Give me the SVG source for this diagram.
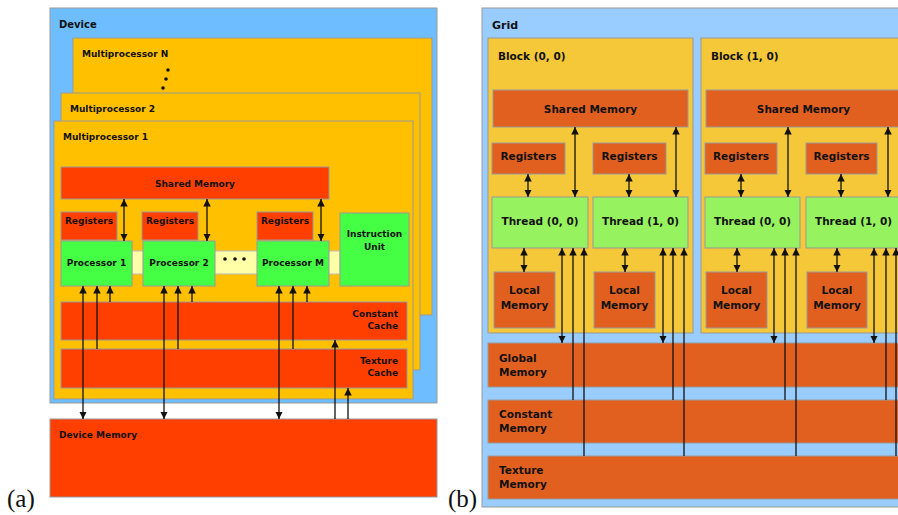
<svg xmlns="http://www.w3.org/2000/svg" width="898" height="515" viewBox="0 0 898 515">
<style>
text{font-family:"DejaVu Sans",Verdana,sans-serif;font-weight:bold;fill:#111}
.a{font-size:9px}
.b{font-size:10.5px}
.c{text-anchor:middle}
.r{text-anchor:end}
.lbl{font-family:"Liberation Serif","DejaVu Serif",serif;font-weight:normal;font-size:25px}
.st{stroke:#999;stroke-width:1}
.dev{fill:#6ebeff}
.mp{fill:#ffc000}
.red{fill:#ff3f00}
.grn{fill:#44ff44}
.grid{fill:#99ccff}
.blk{fill:#f4c838}
.org{fill:#e2601f}
.thr{fill:#96f25f}
.ln{stroke:#111;stroke-width:1.3;fill:none}
</style>
<defs>
<marker id="h" viewBox="0 0 8 8" markerWidth="7.5" markerHeight="7.5" refX="8" refY="4" orient="auto-start-reverse" markerUnits="userSpaceOnUse">
<path d="M0,0 L8,4 L0,8 z" fill="#111"/>
</marker>
</defs>
<rect width="898" height="515" fill="#fff"/>

<!-- (a) -->
<g id="device">
<rect x="50" y="8" width="387" height="395" class="dev st"/>
<text x="59" y="28" style="font-size:10px">Device</text>
</g>
<g id="mpN">
<rect x="73" y="38" width="359" height="277" class="mp st"/>
<text x="82" y="57" class="a">Multiprocessor N</text>
<circle cx="168" cy="70" r="1.8" fill="#111"/>
<circle cx="166" cy="79" r="1.8" fill="#111"/>
<circle cx="163" cy="88" r="1.8" fill="#111"/>
</g>
<g id="mp2">
<rect x="61" y="93" width="359" height="277" class="mp st"/>
<text x="70" y="112" class="a">Multiprocessor 2</text>
</g>
<g id="mp1">
<rect x="54" y="121" width="359" height="278" class="mp st"/>
<text x="63" y="140" class="a">Multiprocessor 1</text>
</g>
<g id="sharedA">
<rect x="61" y="167" width="268" height="32" class="red st"/>
<text x="195" y="187" class="a c">Shared Memory</text>
</g>
<g id="bar">
<rect x="132" y="251" width="208" height="23" fill="#ffffa8" stroke="#bbb"/>
<circle cx="225" cy="259" r="1.8" fill="#111"/>
<circle cx="235" cy="259" r="1.8" fill="#111"/>
<circle cx="244" cy="259" r="1.8" fill="#111"/>
</g>
<g id="reg1"><rect x="61" y="212" width="56" height="28" class="red st"/><text x="89" y="224" class="a c">Registers</text></g>
<g id="reg2"><rect x="142" y="212" width="56" height="28" class="red st"/><text x="170" y="224" class="a c">Registers</text></g>
<g id="regM"><rect x="257" y="212" width="56" height="28" class="red st"/><text x="285" y="224" class="a c">Registers</text></g>
<g id="proc1"><rect x="61" y="241" width="71" height="45" class="grn st"/><text x="96.5" y="266" class="a c">Processor 1</text></g>
<g id="proc2"><rect x="143" y="241" width="72" height="45" class="grn st"/><text x="179" y="266" class="a c">Processor 2</text></g>
<g id="procM"><rect x="257" y="241" width="72" height="45" class="grn st"/><text x="293" y="266" class="a c">Processor M</text></g>
<g id="iu"><rect x="340" y="213" width="69" height="73" class="grn st"/><text x="374.5" y="237" class="a c">Instruction</text><text x="374.5" y="250" class="a c">Unit</text></g>
<g id="constA"><rect x="61" y="302" width="346" height="38" class="red st"/><text x="398" y="317" class="a r">Constant</text><text x="398" y="329" class="a r">Cache</text></g>
<g id="texA"><rect x="61" y="349" width="346" height="39" class="red st"/><text x="398" y="364" class="a r">Texture</text><text x="398" y="376" class="a r">Cache</text></g>
<g id="devmem"><rect x="50" y="419" width="387" height="78" class="red st"/><text x="59" y="438" class="a">Device Memory</text></g>
<text x="7" y="507" class="lbl">(a)</text>

<!-- (b) -->
<g id="gridB">
<rect x="482" y="8" width="424" height="499" class="grid st"/>
<text x="492" y="29" style="font-size:11px">Grid</text>
</g>
<g id="block00">
<rect x="488" y="38" width="205" height="295" class="blk st"/>
<text x="498" y="60" class="b">Block (0, 0)</text>
</g>
<g id="block10">
<rect x="701" y="38" width="205" height="295" class="blk st"/>
<text x="711" y="60" class="b">Block (1, 0)</text>
</g>
<g id="sm0"><rect x="493" y="90" width="195" height="37" class="org st"/><text x="590.5" y="113" class="b c">Shared Memory</text></g>
<g id="sm1"><rect x="706" y="90" width="195" height="37" class="org st"/><text x="803.5" y="113" class="b c">Shared Memory</text></g>
<g id="r00"><rect x="492" y="143" width="73" height="31" class="org st"/><text x="528.5" y="160" class="b c">Registers</text></g>
<g id="r01"><rect x="593" y="143" width="73" height="31" class="org st"/><text x="629.5" y="160" class="b c">Registers</text></g>
<g id="r10"><rect x="705" y="143" width="72" height="31" class="org st"/><text x="741" y="160" class="b c">Registers</text></g>
<g id="r11"><rect x="806" y="143" width="71" height="31" class="org st"/><text x="841.5" y="160" class="b c">Registers</text></g>
<g id="t00"><rect x="492" y="197" width="96" height="51" class="thr st"/><text x="540" y="225" class="b c">Thread (0, 0)</text></g>
<g id="t01"><rect x="593" y="197" width="95" height="51" class="thr st"/><text x="640.5" y="225" class="b c">Thread (1, 0)</text></g>
<g id="t10"><rect x="705" y="197" width="95" height="51" class="thr st"/><text x="752.5" y="225" class="b c">Thread (0, 0)</text></g>
<g id="t11"><rect x="806" y="197" width="95" height="51" class="thr st"/><text x="853.5" y="225" class="b c">Thread (1, 0)</text></g>
<g id="lm00"><rect x="494" y="272" width="61" height="56" class="org st"/><text x="524.5" y="294" class="b c">Local</text><text x="524.5" y="309" class="b c">Memory</text></g>
<g id="lm01"><rect x="594" y="272" width="61" height="56" class="org st"/><text x="624.5" y="294" class="b c">Local</text><text x="624.5" y="309" class="b c">Memory</text></g>
<g id="lm10"><rect x="706" y="272" width="61" height="56" class="org st"/><text x="736.5" y="294" class="b c">Local</text><text x="736.5" y="309" class="b c">Memory</text></g>
<g id="lm11"><rect x="807" y="272" width="60" height="56" class="org st"/><text x="837" y="294" class="b c">Local</text><text x="837" y="309" class="b c">Memory</text></g>
<g id="gmem"><rect x="488" y="343" width="418" height="44" class="org st"/><text x="499" y="362" class="b">Global</text><text x="499" y="376" class="b">Memory</text></g>
<g id="cmem"><rect x="488" y="400" width="418" height="43" class="org st"/><text x="499" y="418" class="b">Constant</text><text x="499" y="432" class="b">Memory</text></g>
<g id="tmem"><rect x="488" y="456" width="418" height="43" class="org st"/><text x="499" y="474" class="b">Texture</text><text x="499" y="488" class="b">Memory</text></g>
<text x="448" y="507" class="lbl">(b)</text>

<g id="connectors">
<line x1="124" y1="199" x2="124" y2="241" class="ln" marker-start="url(#h)" marker-end="url(#h)"/>
<line x1="207" y1="199" x2="207" y2="241" class="ln" marker-start="url(#h)" marker-end="url(#h)"/>
<line x1="321" y1="199" x2="321" y2="241" class="ln" marker-start="url(#h)" marker-end="url(#h)"/>
<line x1="83" y1="286" x2="83" y2="419" class="ln" marker-start="url(#h)" marker-end="url(#h)"/>
<line x1="97" y1="349" x2="97" y2="286" class="ln" marker-end="url(#h)"/>
<line x1="110" y1="302" x2="110" y2="286" class="ln" marker-end="url(#h)"/>
<line x1="164" y1="286" x2="164" y2="419" class="ln" marker-start="url(#h)" marker-end="url(#h)"/>
<line x1="178" y1="349" x2="178" y2="286" class="ln" marker-end="url(#h)"/>
<line x1="192" y1="302" x2="192" y2="286" class="ln" marker-end="url(#h)"/>
<line x1="279" y1="286" x2="279" y2="419" class="ln" marker-start="url(#h)" marker-end="url(#h)"/>
<line x1="293" y1="349" x2="293" y2="286" class="ln" marker-end="url(#h)"/>
<line x1="307" y1="302" x2="307" y2="286" class="ln" marker-end="url(#h)"/>
<line x1="335" y1="419" x2="335" y2="340" class="ln" marker-end="url(#h)"/>
<line x1="348" y1="419" x2="348" y2="388" class="ln" marker-end="url(#h)"/>
<line x1="528" y1="174" x2="528" y2="197" class="ln" marker-start="url(#h)" marker-end="url(#h)"/>
<line x1="575" y1="127" x2="575" y2="197" class="ln" marker-start="url(#h)" marker-end="url(#h)"/>
<line x1="629" y1="174" x2="629" y2="197" class="ln" marker-start="url(#h)" marker-end="url(#h)"/>
<line x1="676" y1="127" x2="676" y2="197" class="ln" marker-start="url(#h)" marker-end="url(#h)"/>
<line x1="741" y1="174" x2="741" y2="197" class="ln" marker-start="url(#h)" marker-end="url(#h)"/>
<line x1="788" y1="127" x2="788" y2="197" class="ln" marker-start="url(#h)" marker-end="url(#h)"/>
<line x1="841" y1="174" x2="841" y2="197" class="ln" marker-start="url(#h)" marker-end="url(#h)"/>
<line x1="888" y1="127" x2="888" y2="197" class="ln" marker-start="url(#h)" marker-end="url(#h)"/>
<line x1="524" y1="248" x2="524" y2="272" class="ln" marker-start="url(#h)" marker-end="url(#h)"/>
<line x1="625" y1="248" x2="625" y2="272" class="ln" marker-start="url(#h)" marker-end="url(#h)"/>
<line x1="737" y1="248" x2="737" y2="272" class="ln" marker-start="url(#h)" marker-end="url(#h)"/>
<line x1="837" y1="248" x2="837" y2="272" class="ln" marker-start="url(#h)" marker-end="url(#h)"/>
<line x1="562" y1="248" x2="562" y2="343" class="ln" marker-start="url(#h)" marker-end="url(#h)"/>
<line x1="573" y1="400" x2="573" y2="248" class="ln" marker-end="url(#h)"/>
<line x1="584" y1="456" x2="584" y2="248" class="ln" marker-end="url(#h)"/>
<line x1="663" y1="248" x2="663" y2="343" class="ln" marker-start="url(#h)" marker-end="url(#h)"/>
<line x1="673" y1="400" x2="673" y2="248" class="ln" marker-end="url(#h)"/>
<line x1="684" y1="456" x2="684" y2="248" class="ln" marker-end="url(#h)"/>
<line x1="774" y1="248" x2="774" y2="343" class="ln" marker-start="url(#h)" marker-end="url(#h)"/>
<line x1="785" y1="400" x2="785" y2="248" class="ln" marker-end="url(#h)"/>
<line x1="796" y1="456" x2="796" y2="248" class="ln" marker-end="url(#h)"/>
<line x1="874" y1="248" x2="874" y2="343" class="ln" marker-start="url(#h)" marker-end="url(#h)"/>
<line x1="886" y1="400" x2="886" y2="248" class="ln" marker-end="url(#h)"/>
<line x1="896" y1="456" x2="896" y2="248" class="ln" marker-end="url(#h)"/>
</g>
</svg>
